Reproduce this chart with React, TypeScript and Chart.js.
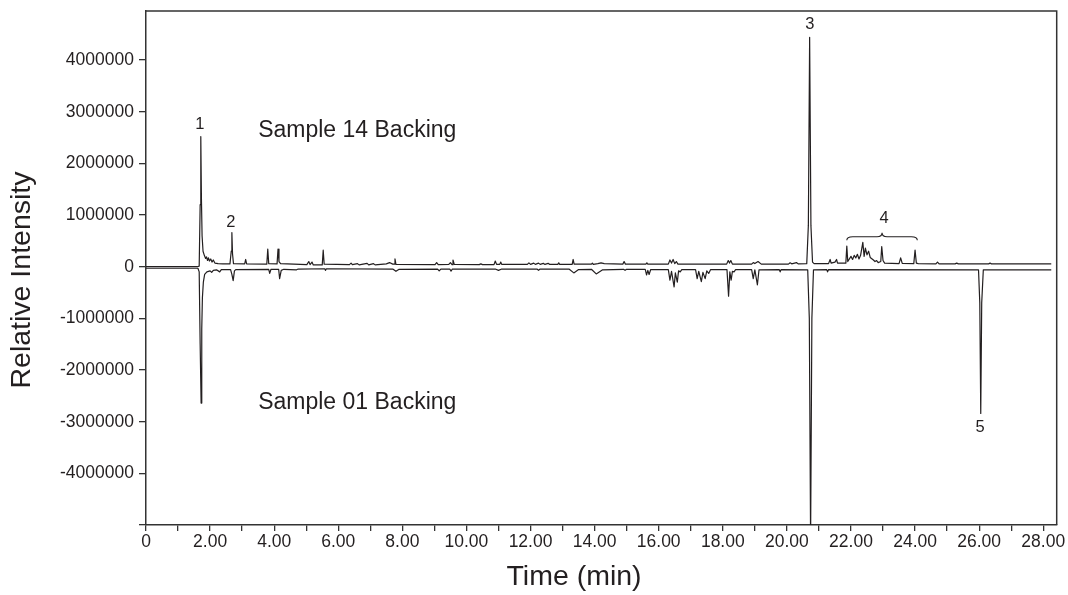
import React, { useEffect, useRef } from 'react';
import { Chart, registerables } from 'chart.js';

Chart.register(...registerables);

// ---- Data: Sample 14 Backing (upper trace, positive) ----
const sample14Times = [
  0.0, 1.6, 1.66, 1.69, 1.71, 1.73, 1.75, 1.78, 1.82, 1.86, 1.89, 1.92, 1.95, 1.98, 2.02, 2.06, 2.1, 2.15, 2.25, 2.4,
  2.62, 2.66, 2.68, 2.7, 2.73, 3.08, 3.11, 3.14, 3.77, 3.8, 3.83, 4.09, 4.12, 4.15, 4.2,
  5.02, 5.08, 5.12, 5.18, 5.22, 5.5, 5.53, 5.56, 6.35, 6.4, 6.44, 6.6, 6.65, 6.9, 6.95, 7.1, 7.15,
  7.5, 7.6, 7.7, 7.74, 7.77, 7.8, 9.02, 9.07, 9.12, 9.45, 9.5, 9.55, 9.58, 9.62, 10.4, 10.45, 10.5,
  10.86, 10.9, 10.94, 11.04, 11.07, 11.1, 11.9, 11.95, 12.0, 12.1, 12.15, 12.25, 12.3, 12.4, 12.45, 12.55, 12.6,
  12.85, 12.88, 12.91, 13.3, 13.33, 13.36, 13.9, 13.93, 13.96, 14.1, 14.2, 14.3, 14.88, 14.92, 14.96,
  15.6, 15.63, 15.66, 16.3, 16.35, 16.4, 16.45, 16.5, 16.55, 16.6, 18.12, 18.17, 18.21, 18.25, 18.3,
  18.9, 18.95, 19.0, 19.1, 19.2, 20.05, 20.1, 20.15, 20.3, 20.35, 20.62, 20.67, 20.71, 20.75, 20.8, 20.85,
  21.3, 21.35, 21.38, 21.5, 21.55, 21.58, 21.84, 21.87, 21.9, 22.0, 22.05, 22.1, 22.15, 22.2, 22.25, 22.3,
  22.37, 22.41, 22.45, 22.5, 22.55, 22.6, 22.7, 22.75, 22.8, 22.85, 22.93, 22.96, 23.0, 23.05,
  23.5, 23.55, 23.6, 23.96, 24.0, 24.04, 24.1, 24.65, 24.7, 24.75, 25.25, 25.3, 25.35, 26.3, 26.34, 26.38, 28.25,
];
const sample14Values = [
  0, 0, 10000, 1200000, 2520000, 1300000, 600000, 300000, 220000, 160000, 190000, 120000, 170000, 110000, 150000, 90000, 130000, 70000, 60000, 55000,
  55000, 300000, 660000, 250000, 60000, 55000, 140000, 55000, 50000, 340000, 60000, 55000, 340000, 100000, 60000,
  40000, 100000, 40000, 90000, 35000, 35000, 320000, 50000, 40000, 70000, 40000, 60000, 35000, 65000, 35000, 60000, 35000,
  55000, 80000, 50000, 50000, 150000, 45000, 40000, 80000, 40000, 45000, 80000, 40000, 130000, 45000, 40000, 55000, 40000,
  40000, 110000, 45000, 45000, 90000, 45000, 45000, 75000, 45000, 70000, 45000, 70000, 45000, 65000, 45000, 65000, 45000,
  45000, 75000, 45000, 45000, 140000, 50000, 50000, 70000, 45000, 60000, 75000, 60000, 50000, 100000, 50000,
  50000, 75000, 50000, 50000, 130000, 70000, 140000, 60000, 100000, 50000, 50000, 120000, 70000, 120000, 50000,
  50000, 80000, 60000, 100000, 50000, 50000, 75000, 55000, 80000, 55000, 60000, 800000, 4440000, 800000, 90000, 60000,
  60000, 140000, 70000, 90000, 140000, 70000, 70000, 400000, 100000, 200000, 140000, 220000, 170000, 240000, 150000, 220000,
  470000, 200000, 360000, 230000, 300000, 180000, 130000, 100000, 120000, 80000, 100000, 390000, 120000, 70000,
  60000, 170000, 65000, 60000, 320000, 70000, 60000, 55000, 90000, 55000, 55000, 70000, 55000, 55000, 70000, 55000, 55000,
];

// ---- Data: Sample 01 Backing (lower trace, negative) ----
const sample01Times = [
  0.0, 1.62, 1.66, 1.69, 1.72, 1.74, 1.76, 1.79, 1.83, 1.9, 2.0, 2.05, 2.1, 2.2, 2.3, 2.35,
  2.64, 2.68, 2.72, 2.76, 2.8, 3.83, 3.86, 3.9, 4.14, 4.17, 4.22, 4.3, 4.7, 4.75, 5.58, 5.6, 5.63,
  7.7, 7.8, 7.9, 9.1, 9.15, 9.2, 9.48, 9.52, 9.56, 10.9, 11.0, 11.1, 12.2, 12.25, 12.3,
  13.2, 13.35, 13.5, 13.9, 14.05, 14.25, 14.9, 14.95, 15.0, 15.58, 15.62, 15.66, 15.7, 15.75,
  16.3, 16.35, 16.4, 16.48, 16.52, 16.58, 16.62, 16.67, 16.72, 17.15, 17.2, 17.25, 17.33, 17.38, 17.45, 17.5, 17.56, 17.62,
  18.13, 18.18, 18.22, 18.26, 18.3, 18.35, 18.4, 18.9, 18.95, 19.0, 19.08, 19.13, 19.76, 19.79, 19.82,
  20.65, 20.7, 20.74, 20.78, 20.83, 21.24, 21.27, 21.3, 25.98, 26.02, 26.05, 26.08, 26.13, 28.25,
];
const sample01Values = [
  -30000, -30000, -100000, -1500000, -2640000, -1200000, -600000, -300000, -150000, -100000, -80000, -110000, -70000, -60000, -100000, -55000,
  -55000, -150000, -270000, -80000, -55000, -50000, -130000, -50000, -50000, -230000, -70000, -50000, -60000, -45000, -40000, -70000, -40000,
  -45000, -90000, -50000, -45000, -80000, -45000, -45000, -85000, -45000, -45000, -70000, -45000, -45000, -70000, -45000,
  -45000, -120000, -55000, -50000, -140000, -60000, -50000, -70000, -50000, -50000, -160000, -70000, -150000, -55000,
  -55000, -260000, -90000, -390000, -120000, -300000, -80000, -100000, -55000, -55000, -230000, -90000, -290000, -110000, -230000, -80000, -130000, -55000,
  -55000, -570000, -100000, -260000, -90000, -100000, -55000, -55000, -230000, -60000, -350000, -60000, -55000, -100000, -55000,
  -60000, -1000000, -5300000, -1000000, -60000, -55000, -100000, -55000, -60000, -700000, -2840000, -700000, -60000, -60000,
];

// ---- Axes ----
const xMin = 0;
const xMax = 28.42;
const xTickValues = [0, 1, 2, 3, 4, 5, 6, 7, 8, 9, 10, 11, 12, 13, 14, 15, 16, 17, 18, 19, 20, 21, 22, 23, 24, 25, 26, 27, 28];
const xLabelledValues = [0, 2, 4, 6, 8, 10, 12, 14, 16, 18, 20, 22, 24, 26, 28];
const yMin = -5000000;
const yMax = 4950000;
const yTickValues = [-5000000, -4000000, -3000000, -2000000, -1000000, 0, 1000000, 2000000, 3000000, 4000000];
const yUnlabelledValues = [-5000000];

// ---- Annotations ----
const peakLabels = ['1', '2', '3', '4', '5'];
const peakLabelTimes = [1.68, 2.65, 20.72, 23.03, 26.03];
const peakLabelValues = [2760000, 860000, 4680000, 940000, -3120000];
const sampleNames = ['Sample 14 Backing', 'Sample 01 Backing'];
const sampleNameTimes = [3.5, 3.5];
const sampleNameValues = [2504000, -2760000];
const braceTimes = [21.87, 24.07];
const braceValue = 580000;
const xTitle = 'Time (min)';
const yTitle = 'Relative Intensity';

const FONT = "'Liberation Sans', Arial, Helvetica, sans-serif";
const INK = '#231f20';
const W = 1068;
const H = 595;

const annotationPlugin = {
  id: 'annotations',
  afterDatasetsDraw(chart: any) {
    const { ctx, chartArea, scales } = chart;
    const x = scales.x;
    const y = scales.y;
    ctx.save();
    // frame top & right
    ctx.strokeStyle = '#333';
    ctx.lineWidth = 1.5;
    ctx.beginPath();
    ctx.moveTo(chartArea.left, chartArea.top);
    ctx.lineTo(chartArea.right, chartArea.top);
    ctx.lineTo(chartArea.right, chartArea.bottom);
    ctx.stroke();

    ctx.fillStyle = INK;
    ctx.textAlign = 'center';
    ctx.textBaseline = 'middle';
    ctx.font = `16.5px ${FONT}`;
    peakLabels.forEach((l, i) => {
      ctx.fillText(l, x.getPixelForValue(peakLabelTimes[i]), y.getPixelForValue(peakLabelValues[i]));
    });

    ctx.textAlign = 'left';
    ctx.textBaseline = 'alphabetic';
    ctx.font = `23px ${FONT}`;
    sampleNames.forEach((s, i) => {
      ctx.fillText(s, x.getPixelForValue(sampleNameTimes[i]), y.getPixelForValue(sampleNameValues[i]));
    });

    // brace
    const x1 = x.getPixelForValue(braceTimes[0]);
    const x2 = x.getPixelForValue(braceTimes[1]);
    const xm = (x1 + x2) / 2;
    const y0 = y.getPixelForValue(braceValue);
    ctx.strokeStyle = INK;
    ctx.lineWidth = 1.1;
    ctx.beginPath();
    ctx.moveTo(x1, y0 + 3.5);
    ctx.quadraticCurveTo(x1, y0, x1 + 6, y0);
    ctx.lineTo(xm - 5, y0);
    ctx.quadraticCurveTo(xm, y0, xm, y0 - 4);
    ctx.quadraticCurveTo(xm, y0, xm + 5, y0);
    ctx.lineTo(x2 - 6, y0);
    ctx.quadraticCurveTo(x2, y0, x2, y0 + 3.5);
    ctx.stroke();

    // axis titles
    ctx.font = `28.5px ${FONT}`;
    ctx.textAlign = 'center';
    ctx.textBaseline = 'middle';
    ctx.fillText(xTitle, 574, 577);
    ctx.translate(22, 280);
    ctx.rotate(-Math.PI / 2);
    ctx.fillText(yTitle, 0, 0);
    ctx.restore();
  },
};

export default function App() {
  const ref = useRef<HTMLCanvasElement | null>(null);
  useEffect(() => {
    if (!ref.current) return;
    const chart = new Chart(ref.current, {
      type: 'line',
      data: {
        datasets: [
          {
            label: sampleNames[0],
            data: sample14Times.map((t, i) => ({ x: t, y: sample14Values[i] })),
            borderColor: INK,
            borderWidth: 1.2,
            pointRadius: 0,
            tension: 0,
            borderJoinStyle: 'round',
          },
          {
            label: sampleNames[1],
            data: sample01Times.map((t, i) => ({ x: t, y: sample01Values[i] })),
            borderColor: INK,
            borderWidth: 1.2,
            pointRadius: 0,
            tension: 0,
            borderJoinStyle: 'round',
          },
        ],
      },
      options: {
        responsive: false,
        animation: false,
        events: [],
        layout: { padding: { top: 11, right: 11.3, left: 8, bottom: 8 } },
        plugins: { legend: { display: false }, tooltip: { enabled: false }, title: { display: false } },
        scales: {
          x: {
            type: 'linear',
            min: xMin,
            max: xMax,
            afterBuildTicks: (s: any) => {
              s.ticks = xTickValues.map((v) => ({ value: v }));
            },
            afterFit: (s: any) => {
              s.height = 62;
              s.paddingLeft = 0;
              s.paddingRight = 0;
            },
            ticks: {
              autoSkip: false,
              maxRotation: 0,
              padding: 1,
              color: INK,
              font: { family: FONT, size: 17.5 },
              callback: (v: any) => {
                const n = Number(v);
                if (!xLabelledValues.includes(n)) return '';
                return n === 0 ? '0' : n.toFixed(2);
              },
            },
            grid: { drawOnChartArea: false, drawTicks: true, tickLength: 6, color: '#333', lineWidth: 1.3 },
            border: { display: true, color: '#333', width: 1.5 },
          },
          y: {
            type: 'linear',
            min: yMin,
            max: yMax,
            afterBuildTicks: (s: any) => {
              s.ticks = yTickValues.map((v) => ({ value: v }));
            },
            afterFit: (s: any) => {
              s.width = 138;
              s.paddingTop = 0;
              s.paddingBottom = 0;
            },
            ticks: {
              autoSkip: false,
              padding: 5,
              color: INK,
              font: { family: FONT, size: 17.5 },
              callback: (v: any) => (yUnlabelledValues.includes(Number(v)) ? '' : String(Number(v))),
            },
            grid: { drawOnChartArea: false, drawTicks: true, tickLength: 7, color: '#333', lineWidth: 1.3 },
            border: { display: true, color: '#333', width: 1.5 },
          },
        },
      } as any,
      plugins: [annotationPlugin],
    });
    return () => chart.destroy();
  }, []);
  return (
    <canvas
      ref={ref}
      width={W}
      height={H}
      style={{ display: 'block', position: 'fixed', left: 0, top: 0, width: W, height: H }}
    />
  );
}
